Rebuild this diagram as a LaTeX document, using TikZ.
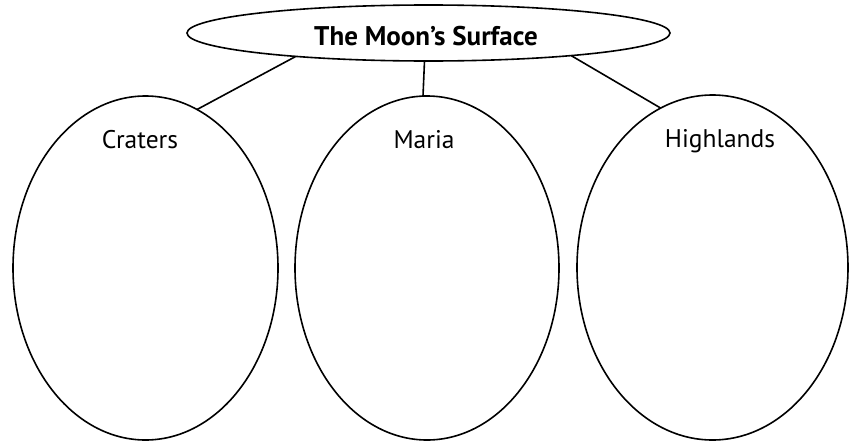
\documentclass[tikz,border=0pt]{standalone}
\usepackage{fontspec}
\setmainfont{PT Sans}
\usetikzlibrary{shapes.geometric}
\begin{document}
\begin{tikzpicture}[x=1pt,y=-1pt,
  oval/.style={draw=black,line width=1.6pt,ellipse,inner sep=0pt,outer sep=0pt},
  lab/.style={font=\fontsize{25.5}{28}\selectfont,inner sep=0pt,anchor=base},
  conn/.style={draw=black,line width=1.6pt}]
\useasboundingbox[fill=white] (0,0) rectangle (855,442);
\node[oval,minimum width=483pt,minimum height=56pt] (top) at (428.5,33) {};
\node[font=\bfseries\fontsize{27}{30}\selectfont,inner sep=0pt,anchor=base] (title) at (426,45) {The Moon’s Surface};
\node[oval,minimum width=265pt,minimum height=344pt] (left) at (145.5,268) {};
\node[oval,minimum width=264pt,minimum height=344pt] (mid) at (427,268) {};
\node[oval,minimum width=271pt,minimum height=345pt] (right) at (712.5,267.5) {};
\node[lab] (lcrat) at (140,148) {Craters};
\node[lab] (lmar) at (424,148) {Maria};
\node[lab] (lhigh) at (720,147) {Highlands};
\draw[conn] (top.190) -- (left.72);
\draw[conn] ([xshift=-4pt]top.south) -- ([xshift=-4pt]mid.north);
\draw[conn] (top.351) -- (right.108);
\end{tikzpicture}
\end{document}
